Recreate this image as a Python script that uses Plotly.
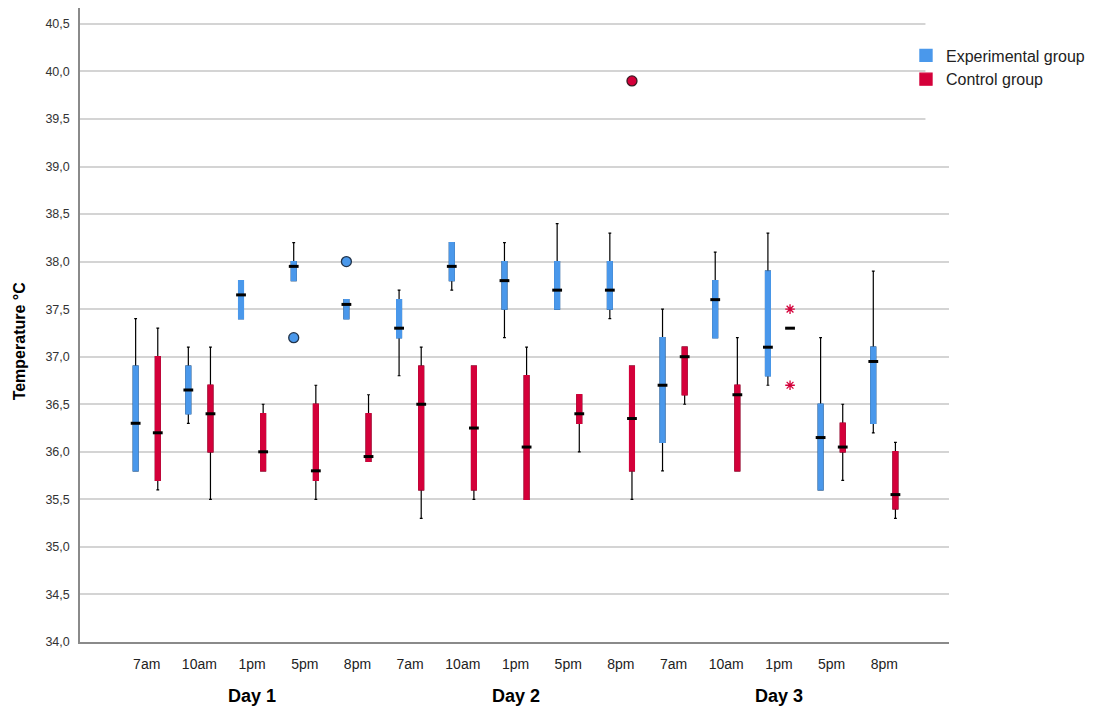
import plotly.graph_objects as go

# Measurement schedule
times = ["7am", "10am", "1pm", "5pm", "8pm"]
days = ["Day 1", "Day 2", "Day 3"]

# Experimental group: box statistics per time point (°C)
exp_lo = [35.8, 36.3, 37.4, 37.8, 37.4, 36.8, 37.7, 37.2, 37.5, 37.4, 35.8, 37.2, 36.7, 35.6, 36.2]
exp_q1 = [35.8, 36.4, 37.4, 37.8, 37.4, 37.2, 37.8, 37.5, 37.5, 37.5, 36.1, 37.2, 36.8, 35.6, 36.3]
exp_med = [36.3, 36.65, 37.65, 37.95, 37.55, 37.3, 37.95, 37.8, 37.7, 37.7, 36.7, 37.6, 37.1, 36.15, 36.95]
exp_q3 = [36.9, 36.9, 37.8, 38.0, 37.6, 37.6, 38.2, 38.0, 38.0, 38.0, 37.2, 37.8, 37.9, 36.5, 37.1]
exp_hi = [37.4, 37.1, 37.8, 38.2, 37.6, 37.7, 38.2, 38.2, 38.4, 38.3, 37.5, 38.1, 38.3, 37.2, 37.9]

# Control group: box statistics per time point (°C)
ctrl_lo = [35.6, 35.5, 35.8, 35.5, 35.9, 35.3, 35.5, 35.5, 36.0, 35.5, 36.5, 35.8, 37.3, 35.7, 35.3]
ctrl_q1 = [35.7, 36.0, 35.8, 35.7, 35.9, 35.6, 35.6, 35.5, 36.3, 35.8, 36.6, 35.8, 37.3, 36.0, 35.4]
ctrl_med = [36.2, 36.4, 36.0, 35.8, 35.95, 36.5, 36.25, 36.05, 36.4, 36.35, 37.0, 36.6, 37.3, 36.05, 35.55]
ctrl_q3 = [37.0, 36.7, 36.4, 36.5, 36.4, 36.9, 36.9, 36.8, 36.6, 36.9, 37.1, 36.7, 37.3, 36.3, 36.0]
ctrl_hi = [37.3, 37.1, 36.5, 36.7, 36.6, 37.1, 36.9, 37.1, 36.6, 36.9, 37.1, 37.2, 37.3, 36.5, 36.1]

# Outliers (time-point index, value)
exp_out_idx = [3, 4]
exp_out_val = [37.2, 38.0]
ctrl_out_idx = [9]
ctrl_out_val = [39.9]
ctrl_ext_idx = [12, 12]
ctrl_ext_val = [37.5, 36.7]

BLUE = "#4a98eb"
RED = "#d4003a"
OFFSET = 0.21
BOX_W = 0.09

n = len(days) * len(times)
idx = list(range(n))
tick_text = [t for _ in days for t in times]

fig = go.Figure()

groups = [
    ("Experimental group", -OFFSET, exp_lo, exp_q1, exp_med, exp_q3, exp_hi, BLUE),
    ("Control group", OFFSET, ctrl_lo, ctrl_q1, ctrl_med, ctrl_q3, ctrl_hi, RED),
]

for name, off, lo, q1, med, q3, hi, color in groups:
    xs = [i + off for i in idx]
    # whiskers (black); the box part is covered by the coloured box below
    fig.add_trace(go.Box(
        x=xs, q1=q1, median=med, q3=q3, lowerfence=lo, upperfence=hi,
        width=BOX_W, whiskerwidth=0.6, boxpoints=False,
        line=dict(color="black", width=1.2), fillcolor="black",
        showlegend=False, hoverinfo="skip",
    ))
    # coloured interquartile box
    fig.add_trace(go.Box(
        x=xs, q1=q1, median=med, q3=q3, lowerfence=q1, upperfence=q3,
        width=BOX_W, whiskerwidth=0, boxpoints=False,
        line=dict(color=color, width=1.4), fillcolor=color,
        name=name,
    ))
    # black median dash
    fig.add_trace(go.Scatter(
        x=xs, y=med, mode="markers",
        marker=dict(symbol="line-ew", size=7, line=dict(color="black", width=3)),
        showlegend=False, hoverinfo="skip",
    ))

# mild outliers (circles)
fig.add_trace(go.Scatter(
    x=[i - OFFSET for i in exp_out_idx], y=exp_out_val, mode="markers",
    marker=dict(symbol="circle", size=10, color=BLUE, line=dict(color="#23344a", width=1.3)),
    showlegend=False,
))
fig.add_trace(go.Scatter(
    x=[i + OFFSET for i in ctrl_out_idx], y=ctrl_out_val, mode="markers",
    marker=dict(symbol="circle", size=10, color=RED, line=dict(color="#3a1a22", width=1.3)),
    showlegend=False,
))
# extreme outliers (asterisks)
fig.add_trace(go.Scatter(
    x=[i + OFFSET for i in ctrl_ext_idx], y=ctrl_ext_val, mode="markers",
    marker=dict(symbol="asterisk-open", size=8, color=RED, line=dict(color=RED, width=1.3)),
    showlegend=False,
))

# day labels under the time ticks
for d, day in enumerate(days):
    fig.add_annotation(
        x=d * len(times) + len(times) // 2, y=-0.085, xref="x", yref="paper",
        text="<b>%s</b>" % day, showarrow=False,
        font=dict(size=18, color="black"), yanchor="middle",
    )

# y-axis title
fig.add_annotation(
    x=-0.0696, y=0.475, xref="paper", yref="paper",
    text="<b>Temperature °C</b>", textangle=-90, showarrow=False,
    font=dict(size=16, color="black"), xanchor="center", yanchor="middle",
)

# keep the legend area clear of the upper gridlines
fig.add_shape(
    type="rect", xref="x", yref="y", x0=14.78, x1=15.5, y0=39.25, y1=40.8,
    fillcolor="white", line=dict(width=0), layer="between",
)

fig.update_layout(
    width=1096, height=709,
    margin=dict(l=80, r=147, t=8, b=67, autoexpand=False),
    paper_bgcolor="white", plot_bgcolor="white",
    font=dict(family="Liberation Sans, Arial, sans-serif", color="#333"),
    separators=",.",
    boxmode="overlay",
    legend=dict(
        x=0.9505, xanchor="left", y=0.952, yanchor="top",
        font=dict(size=16, color="#222"), bgcolor="rgba(0,0,0,0)",
        tracegroupgap=0,
    ),
)

fig.update_xaxes(
    range=[-1.266, 15.227], tickvals=idx, ticktext=tick_text,
    tickfont=dict(size=14, color="#222"), ticks="", ticklabelstandoff=8,
    showgrid=False, zeroline=False,
    showline=True, linecolor="#8a8a8a", linewidth=1.5,
)
fig.update_yaxes(
    range=[34.0, 40.667], tick0=34.0, dtick=0.5, tickformat=".1f",
    tickfont=dict(size=12.5, color="#333"), ticks="", ticklabelstandoff=6,
    showgrid=True, gridcolor="#d4d4d4", gridwidth=1.5, zeroline=False,
    showline=True, linecolor="#8a8a8a", linewidth=1.5,
)

fig.write_html("out.html")
